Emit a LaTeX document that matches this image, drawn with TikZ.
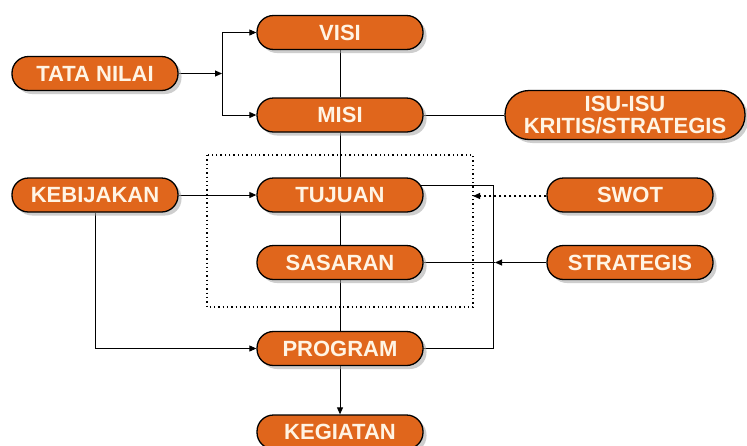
\documentclass[tikz,border=0pt]{standalone}
\usepackage{fontspec}
\setmainfont{Liberation Sans}
\usetikzlibrary{shadows,arrows.meta,backgrounds}
\definecolor{pillorange}{RGB}{224,102,28}
\definecolor{pilltext}{RGB}{255,244,228}
\tikzset{
  pill/.style={draw=black, line width=1.3pt, fill=pillorange, rounded corners=16.5pt,
    minimum width=166pt, minimum height=34pt, inner sep=0pt, align=center,
    text=pilltext, font=\bfseries\fontsize{22}{23}\selectfont,
    drop shadow={shadow xshift=3.5pt, shadow yshift=-3.5pt, fill=black!35, opacity=0.55}},
  link/.style={draw=black, line width=0.9pt},
  arr/.style={link, -{Triangle[length=7pt,width=6pt]}},
  dotarr/.style={draw=black, line width=1.1pt, dash pattern=on 2.5pt off 2.5pt, -{Triangle[length=7pt,width=6pt]}},
  dotbox/.style={draw=black, line width=1.1pt, dash pattern=on 1.3pt off 3pt},
}
\begin{document}
\begin{tikzpicture}[x=1pt,y=-1pt]
\useasboundingbox (0,0) rectangle (747,445);
% nodes
\node[pill] (visi) at (340,32.5) {VISI};
\node[pill] (misi) at (340,115) {MISI};
\node[pill] (tata) at (95,73.5) {TATA NILAI};
\node[pill, minimum width=240pt, minimum height=49pt, rounded corners=24pt, font=\bfseries\fontsize{22}{22}\selectfont] (isu) at (625,115) {ISU-ISU\\KRITIS/STRATEGIS};
\node[pill] (keb) at (95,195) {KEBIJAKAN};
\node[pill] (tujuan) at (340,195) {TUJUAN};
\node[pill] (sasaran) at (340,262.5) {SASARAN};
\node[pill] (swot) at (630,195) {SWOT};
\node[pill] (strat) at (630,262.5) {STRATEGIS};
\node[pill] (program) at (340,348.5) {PROGRAM};
\node[pill] (keg) at (340,432) {KEGIATAN};
% coordinates
\coordinate (j) at (222,73.5);
\coordinate (tr) at (493,185);
\coordinate (sw) at (473,196);
\coordinate (sa) at (495,262.5);
\begin{pgfonlayer}{background}
\fill[white] (0,0) rectangle (747,445);
\draw[dotbox] (207,155) rectangle (473,307);
\draw[arr] (tata) -- (j);
\draw[arr] (j) |- (visi.west);
\draw[arr] (j) |- (misi.west);
\draw[link] (visi) -- (misi);
\draw[link] (misi) -- (isu);
\draw[link] (misi) -- (tujuan);
\draw[link] (tujuan) -- (sasaran);
\draw[link] (sasaran) -- (program);
\draw[arr] (program) -- (keg);
\draw[arr] (keb) -- (tujuan);
\draw[arr] (keb.south) |- (program.west);
\draw[link] (tujuan.center |- tr) -- (tr) |- (program.center);
\draw[dotarr] (swot.west |- sw) -- (sw);
\draw[arr] (strat) -- (sa);
\draw[link] (sa) -- (sasaran);
\end{pgfonlayer}
\end{tikzpicture}
\end{document}
